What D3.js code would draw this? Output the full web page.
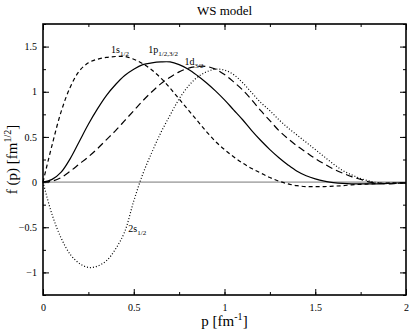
<!DOCTYPE html>
<html>
<head>
<meta charset="utf-8">
<script src="https://cdn.jsdelivr.net/npm/d3@7"></script>
<style>
body { margin: 0; background: #fff; }
svg text { font-family: "Liberation Serif", "DejaVu Serif", serif; }
</style>
</head>
<body>
<script>
// momentum grid, fm^-1
var pGrid = d3.range(0, 41).map(function(i){ return +(i * 0.05).toFixed(2); });

var s1 = [0, 0.41, 0.78, 1.05, 1.23, 1.32, 1.36, 1.38, 1.39, 1.39, 1.36, 1.31, 1.24, 1.15, 1.04, 0.92,
          0.80, 0.68, 0.56, 0.45, 0.36, 0.28, 0.21, 0.15, 0.10, 0.05, 0.01, -0.02, -0.04, -0.05, -0.05,
          -0.05, -0.045, -0.04, -0.03, -0.025, -0.02, -0.015, -0.01, -0.01, -0.01];
var p1 = [0, 0.03, 0.11, 0.26, 0.45, 0.64, 0.81, 0.96, 1.08, 1.18, 1.25, 1.30, 1.32, 1.33, 1.33, 1.30,
          1.25, 1.18, 1.10, 1.01, 0.91, 0.80, 0.69, 0.57, 0.46, 0.36, 0.27, 0.19, 0.12, 0.07, 0.035,
          0.01, -0.005, -0.015, -0.02, -0.02, -0.02, -0.02, -0.015, -0.01, -0.01];
var d1 = [0, 0.01, 0.05, 0.12, 0.20, 0.28, 0.37, 0.47, 0.57, 0.68, 0.79, 0.90, 1.00, 1.09, 1.16, 1.22,
          1.26, 1.28, 1.28, 1.25, 1.19, 1.11, 1.02, 0.91, 0.79, 0.68, 0.57, 0.48, 0.40, 0.33, 0.26,
          0.20, 0.145, 0.10, 0.06, 0.03, 0.00, -0.01, -0.02, -0.015, -0.01];
var s2 = [0, -0.36, -0.62, -0.80, -0.90, -0.945, -0.93, -0.87, -0.74, -0.55, -0.21, 0.09, 0.33, 0.55, 0.74, 0.92,
          1.06, 1.16, 1.22, 1.25, 1.24, 1.19, 1.10, 0.99, 0.88, 0.79, 0.69, 0.60, 0.52, 0.44, 0.36,
          0.28, 0.20, 0.13, 0.08, 0.04, 0.01, -0.01, -0.015, -0.015, -0.01];

var xTicks = [0, 0.5, 1, 1.5, 2];
var yTicks = [-1, -0.5, 0, 0.5, 1, 1.5];

var width = 409, height = 331;
var margin = {top: 24, right: 3, bottom: 36, left: 43};
var plotW = width - margin.left - margin.right,
    plotH = height - margin.top - margin.bottom;

var svg = d3.select("body").append("svg")
    .attr("width", width)
    .attr("height", height);

var x = d3.scaleLinear().domain([0, 2]).range([0, plotW]);
var y = d3.scaleLinear().domain([-1.25, 1.75]).range([plotH, 0]);

var g = svg.append("g")
    .attr("transform", "translate(" + margin.left + "," + margin.top + ")");

// ticks, all pointing inward, on all four sides
function tickFmt(d){ return d3.format("")(d); }
var minorX = d3.range(0, 2.001, 0.25), minorY = d3.range(-1.25, 1.751, 0.25);

g.append("g").attr("transform", "translate(0," + plotH + ")")
    .call(d3.axisBottom(x).tickValues(xTicks).tickFormat(tickFmt).tickSizeInner(-6).tickSizeOuter(0).tickPadding(9));
g.append("g")
    .call(d3.axisLeft(y).tickValues(yTicks).tickFormat(tickFmt).tickSizeInner(-6).tickSizeOuter(0).tickPadding(6));
g.append("g")
    .call(d3.axisTop(x).tickValues(xTicks).tickFormat("").tickSizeInner(-6).tickSizeOuter(0));
g.append("g").attr("transform", "translate(" + plotW + ",0)")
    .call(d3.axisRight(y).tickValues(yTicks).tickFormat("").tickSizeInner(-6).tickSizeOuter(0));

g.append("g").attr("transform", "translate(0," + plotH + ")")
    .call(d3.axisBottom(x).tickValues(minorX).tickFormat("").tickSizeInner(-3).tickSizeOuter(0));
g.append("g")
    .call(d3.axisTop(x).tickValues(minorX).tickFormat("").tickSizeInner(-3).tickSizeOuter(0));
g.append("g")
    .call(d3.axisLeft(y).tickValues(minorY).tickFormat("").tickSizeInner(-3).tickSizeOuter(0));
g.append("g").attr("transform", "translate(" + plotW + ",0)")
    .call(d3.axisRight(y).tickValues(minorY).tickFormat("").tickSizeInner(-3).tickSizeOuter(0));

g.selectAll(".domain").remove();
g.selectAll(".tick line").attr("stroke", "#000").attr("stroke-width", 1);
g.selectAll(".tick text").attr("font-size", 10).attr("fill", "#000")
    .style("font-family", "Liberation Serif, serif");

// zero line
g.append("line")
    .attr("x1", 0).attr("x2", plotW)
    .attr("y1", y(0)).attr("y2", y(0))
    .attr("stroke", "#777").attr("stroke-width", 1);

// frame
g.append("rect")
    .attr("width", plotW).attr("height", plotH)
    .attr("fill", "none").attr("stroke", "#000").attr("stroke-width", 1.6);

var line = d3.line()
    .x(function(d, i){ return x(pGrid[i]); })
    .y(function(d){ return y(d); })
    .curve(d3.curveCatmullRom);

var series = [
    {vals: s1, dash: "4,3"},
    {vals: p1, dash: null},
    {vals: d1, dash: "7,4"},
    {vals: s2, dash: "1,2"}
];

g.selectAll(".curve")
    .data(series)
    .enter()
    .append("path")
    .attr("class", "curve")
    .attr("d", function(d){ return line(d.vals); })
    .attr("fill", "none")
    .attr("stroke", "#000")
    .attr("stroke-width", 1.2)
    .attr("stroke-dasharray", function(d){ return d.dash; });

// state labels
var labels = [
    {main: "1s", sub: "1/2", p: 0.375, f: 1.43},
    {main: "1p", sub: "1/2,3/2", p: 0.58, f: 1.43},
    {main: "1d", sub: "3/2", p: 0.78, f: 1.30},
    {main: "2s", sub: "1/2", p: 0.47, f: -0.55}
];
labels.forEach(function(l){
    var t = g.append("text")
        .attr("x", x(l.p)).attr("y", y(l.f))
        .attr("font-size", 10);
    t.append("tspan").text(l.main);
    t.append("tspan").attr("dy", 3).attr("font-size", 7).text(l.sub);
});

// title and axis titles
svg.append("text")
    .attr("x", margin.left + plotW / 2).attr("y", 15)
    .attr("text-anchor", "middle").attr("font-size", 13)
    .text("WS model");

var xt = svg.append("text")
    .attr("x", margin.left + plotW / 2).attr("y", 326)
    .attr("text-anchor", "middle").attr("font-size", 15);
xt.append("tspan").text("p [fm");
xt.append("tspan").attr("dy", -6).attr("font-size", 10).text("-1");
xt.append("tspan").attr("dy", 6).text("]");

var yt = svg.append("text")
    .attr("transform", "translate(17," + (margin.top + plotH / 2) + ") rotate(-90)")
    .attr("text-anchor", "middle").attr("font-size", 15);
yt.append("tspan").text("f (p) [fm");
yt.append("tspan").attr("dy", -6).attr("font-size", 10).text("1/2");
yt.append("tspan").attr("dy", 6).text("]");
</script>
</body>
</html>
